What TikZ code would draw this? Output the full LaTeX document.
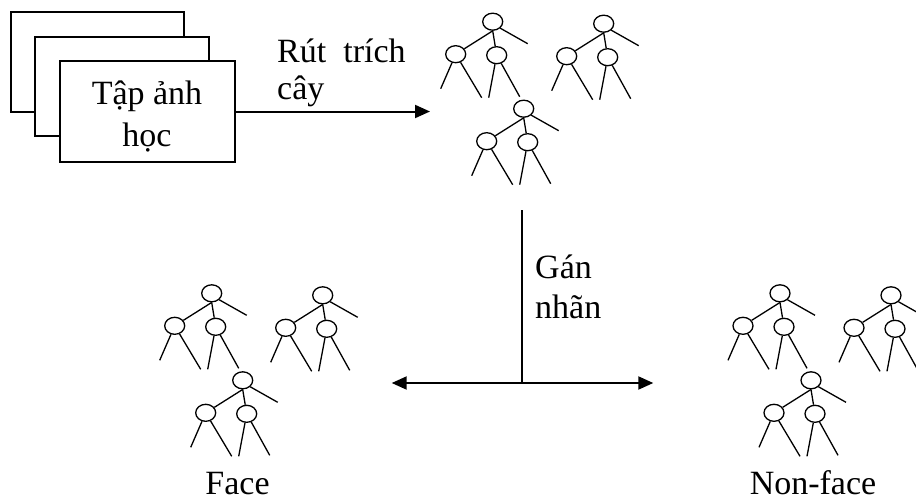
\documentclass[tikz,border=0pt]{standalone}
\usepackage{fontspec}
\setmainfont{Liberation Serif}
\usetikzlibrary{arrows.meta,shapes.geometric}
\tikzset{
  sheet/.style={draw, line width=2pt, fill=white, inner sep=0pt},
  knot/.style={draw, ellipse, line width=1.3pt, minimum width=20pt,
               minimum height=17pt, inner sep=0pt},
  twig/.style={line width=1.3pt},
  link/.style={line width=2pt},
  flow/.style={link, -{Triangle[length=15pt, width=13pt]}},
  txt/.style={font=\fontsize{34}{40}\selectfont, inner sep=0pt},
  % one tree: a root with two children and a loose branch
  tree/.pic={
    \node[knot] (-r) at (0,0) {};
    \node[knot] (-a) at (-37,-32.5) {};
    \node[knot] (-b) at (4,-33.5) {};
    \draw[twig] (-r.south) -- (-a);
    \draw[twig] (-r.south) -- (-b);
    \draw[twig] (-r.south east) -- (35,-22);
    \draw[twig] (-a) -- (-52,-67);
    \draw[twig] (-a) -- (-11,-76);
    \draw[twig] (-b) -- (-4,-76);
    \draw[twig] (-b) -- (27,-75);
  },
}

\begin{document}
\begin{tikzpicture}[x=1pt, y=1pt]
\useasboundingbox (0,0) rectangle (916,-501);

%% ── the stack of training images ─────────────────────────────
\node[sheet, minimum width=173, minimum height=100] (back)  at (97.5,-62)   {};
\node[sheet, minimum width=174, minimum height=99]  (mid)   at (122,-86.5)  {};
\node[sheet, minimum width=175, minimum height=101] (front) at (147.5,-111.5) {};
% base of a two-line node is the last line
\node[txt, anchor=base, align=center, font=\fontsize{34}{42.4}\selectfont]
  (setname) at (147,-146.7) {Tập ảnh\\học};

%% ── three groups of trees: extracted, face, non-face ─────────
\foreach \nm/\cx/\cy in {ext/492.7/-21.7, face/211.7/-293.3, nonface/780/-293.3} {
  \pic (\nm1) at (\cx,\cy) {tree};
  \pic (\nm2) at (\cx+111,\cy-2) {tree};
  \pic (\nm3) at (\cx+31,\cy-87) {tree};
}

%% ── extraction arrow ─────────────────────────────────────────
\coordinate (ext-in) at (430,-111.5);
\draw[flow] (front.east) -- (ext-in);
\node[txt, anchor=base west, align=left, font=\fontsize{34}{36.6}\selectfont]
  (extlbl) at (277,-99.3) {Rút\enspace trích\\cây};

%% ── labelling: down, then split left and right ───────────────
\coordinate (lab-top)    at (521.7,-210);
\coordinate (fork)       at (521.7,-383);
\coordinate (face-in)    at (391.7,-383);
\coordinate (nonface-in) at (653.3,-383);
\draw[link] (lab-top) -- (fork);
\draw[flow] (fork) -- (face-in);
\draw[flow] (fork) -- (nonface-in);
\node[txt, anchor=base west, align=left, font=\fontsize{34}{39.5}\selectfont]
  (lablbl) at (535,-318.3) {Gán\\nhãn};

\node[txt, anchor=base] (facelbl)    at (237.5,-494) {Face};
\node[txt, anchor=base] (nonfacelbl) at (813,-494)   {Non-face};

\end{tikzpicture}
\end{document}
